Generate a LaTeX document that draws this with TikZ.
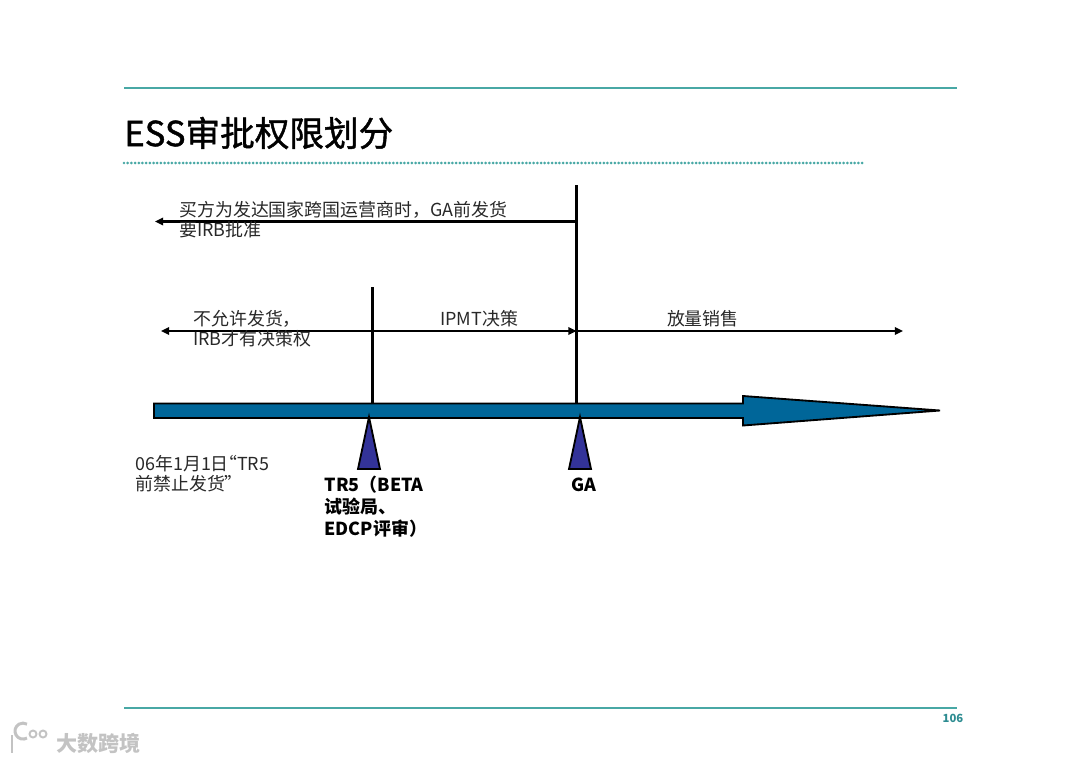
\documentclass[tikz,border=0pt]{standalone}
\usepackage{fontspec}
\setmainfont{Noto Sans CJK SC}
\newfontfamily\titlefont[FakeBold=1.2]{Noto Sans CJK SC}
\usetikzlibrary{arrows.meta,positioning}
\definecolor{rulecol}{RGB}{72,168,165}
\definecolor{pagecol}{RGB}{45,140,145}
\definecolor{barblue}{RGB}{0,102,153}
\definecolor{markblue}{RGB}{51,51,153}
\definecolor{textcol}{RGB}{40,40,40}
\definecolor{markcol}{RGB}{195,195,195}

\begin{document}
\begin{tikzpicture}[
    x=0.2mm, y=-0.2mm,
    rulebar/.style={draw=rulecol, line width=0.7pt},
    dotbar/.style={draw=rulecol, line width=1.7pt, line cap=round, dash pattern=on 0pt off 2.1pt},
    axis/.style={draw=black, line width=1.3pt},
    arr/.style={{Triangle[length=4.6pt,width=4.2pt]}-, axis},
    arrr/.style={-{Triangle[length=4.6pt,width=4.2pt]}, axis},
    arrb/.style={{Triangle[length=4.6pt,width=4.2pt]}-{Triangle[length=4.6pt,width=4.2pt]}, axis},
    bar/.style={draw=black, line width=1.05pt, fill=barblue},
    gate/.style={draw=black, line width=1.05pt, fill=markblue},
    lbl/.style={inner sep=0pt, align=left, text=textcol, font=\fontsize{10.2}{11.6}\selectfont},
    boldlbl/.style={inner sep=0pt, align=left, text=black, font=\fontsize{10.2}{12.4}\selectfont\bfseries}
]
\useasboundingbox (0,0) rectangle (1080,763);

% rules
\draw[rulebar] (124,88) -- (957,88);
\draw[rulebar] (124,708) -- (957,708);
\draw[dotbar] (124,163) -- (864,163);
\node[inner sep=0pt, anchor=west, font=\fontsize{19.7}{21}\selectfont\titlefont] (title) at (124,133) {ESS审批权限划分};
\node[inner sep=0pt, text=pagecol, font=\fontsize{6.4}{7}\selectfont\bfseries] (page) at (953,718) {106};

% timeline
\coordinate (tr5top) at (372.5,403);
\coordinate (gatop) at (576.5,403);
\coordinate (tr5up) at (372.5,287);
\coordinate (gaup) at (576.5,185);
\coordinate (garow1) at (576.5,221.5);
\coordinate (left1) at (155,221.5);
\coordinate (garow2) at (576.5,331);
\coordinate (left2) at (161,331);
\coordinate (right2) at (903,331);
\draw[axis] (tr5up) -- (tr5top);
\draw[axis] (gaup) -- (gatop);
\draw[bar] (154,403.5) -- (743,403.5) -- (743,396) -- (940,410.5) -- (743,425.5) -- (743,418) -- (154,418) -- cycle;

% gates
\coordinate (tr5base) at (369,469);
\coordinate (gabase) at (580,469);
\draw[gate] (369,417) -- (380,469) -- (358,469) -- cycle;
\draw[gate] (580,417) -- (591,469) -- (569,469) -- cycle;

% spans
\draw[arr] (left1) -- (garow1);
\draw[arrb] (left2) -- (garow2);
\draw[arrr] (garow2) -- (right2);

% labels
\node[lbl, anchor=north west] (buyer) at (179,201) {买方为发达国家跨国运营商时，GA前发货\\要IRB批准};
\node[lbl, anchor=north west] (noship) at (193,310) {不允许发货，\\IRB才有决策权};
\node[lbl, anchor=north west] (ipmt) at (440,310) {IPMT决策};
\node[lbl, right=129pt of ipmt.west, anchor=west] (sales) {放量销售};
\node[lbl, anchor=north west] (date) at (135,455) {06年1月1日\hspace{-5.5pt}“TR5\\前禁止发货”};
\node[boldlbl, below left=4pt and 25.5pt of tr5base, anchor=north west] (tr5) {TR5（BETA\\试验局、\\EDCP评审）};
\node[boldlbl, below=5pt of gabase, xshift=2.2pt] (ga) {GA};

% mark
\node[inner sep=0pt, anchor=west, text=markcol, font=\fontsize{12}{13}\selectfont\bfseries] (brand) at (56,743) {大数跨境};
\draw[markcol, line width=1.7pt] (12,735) -- (12,753);
\draw[markcol, line width=1.7pt] (27,738) arc (60:300:8);
\draw[markcol, line width=1.1pt] (33,734) circle (3.5);
\draw[markcol, line width=1.1pt] (43,734) circle (3.5);
\end{tikzpicture}
\end{document}
